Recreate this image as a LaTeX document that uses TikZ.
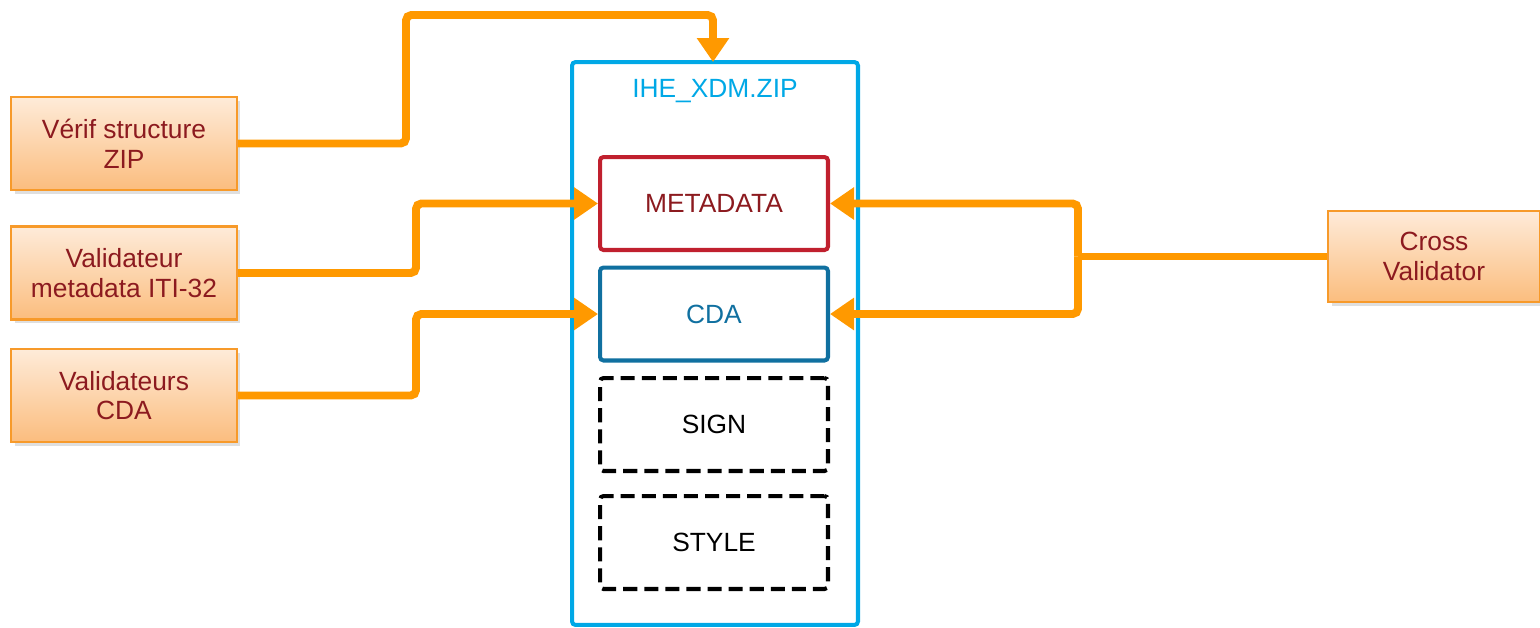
\documentclass[tikz,border=0pt]{standalone}
\usepackage{fontspec}
\setmainfont{Liberation Sans}
\usetikzlibrary{arrows.meta,shadows,calc}
\definecolor{orline}{HTML}{FF9900}
\definecolor{orborder}{HTML}{F79A2A}
\definecolor{ortop}{HTML}{FEEBD9}
\definecolor{orbot}{HTML}{FBBD7E}
\definecolor{dred}{HTML}{8C1A1F}
\definecolor{zipblue}{HTML}{00A8E6}
\definecolor{metared}{HTML}{C0202E}
\definecolor{cdablue}{HTML}{1070A0}
\tikzset{
  tool/.style={draw=orborder, line width=1.2pt, top color=ortop, bottom color=orbot,
    text=dred, align=center, font=\fontsize{15}{17}\selectfont,
    minimum width=4.52cm, minimum height=1.86cm, inner sep=0pt,
    drop shadow={shadow xshift=2pt, shadow yshift=-2pt, opacity=0.25}},
  part/.style={line width=2.3pt, rounded corners=2pt, align=center,
    font=\fontsize{15}{17}\selectfont, minimum width=4.56cm, minimum height=1.86cm, inner sep=0pt},
  flow/.style={draw=orline, line width=4.5pt, rounded corners=3pt,
    -{Triangle[length=0.48cm,width=0.62cm]}},
  plain/.style={draw=orline, line width=4.5pt, rounded corners=3pt},
}
\begin{document}
\begin{tikzpicture}[x=0.02cm,y=-0.02cm]
\useasboundingbox (0,0) rectangle (1540,627);
% outer zip box
\node[draw=zipblue, line width=2.3pt, rounded corners=2pt, minimum width=5.72cm, minimum height=11.26cm, inner sep=0pt] (zip) at (715,343.5) {};
\node[text=zipblue, font=\fontsize{15}{17}\selectfont] (ziplabel) at (715,91) {IHE\_XDM.ZIP};
\node[part, draw=metared, text=dred] (meta) at (714,203.5) {METADATA};
\node[part, draw=cdablue, text=cdablue] (cda) at (714,314) {CDA};
\node[part, draw=black, dash pattern=on 8pt off 4pt, text=black] (sign) at (714,424.5) {SIGN};
\node[part, draw=black, dash pattern=on 8pt off 4pt, text=black] (style) at (714,542.5) {STYLE};
% tools
\node[tool] (verif) at (124,143.5) {Vérif structure\\ZIP};
\node[tool] (valmeta) at (124,273) {Validateur\\metadata ITI-32};
\node[tool] (valcda) at (124,395.5) {Validateurs\\CDA};
\node[tool, minimum width=4.24cm, minimum height=1.82cm] (cross) at (1434,256.5) {Cross\\Validator};
% connectors
\coordinate (j1) at (1078,256.5);
\coordinate (ztop) at (713,62);
\draw[flow] (verif.east) -- ++(168,0) |- (713,15) -- (ztop);
\draw[flow] (valmeta.east) -| (416,203.5) -- (meta.west);
\draw[flow] (valcda.east) -| (416,314) -- (cda.west);
\draw[plain] (cross.west) -- (j1);
\draw[flow] (j1) |- (meta.east);
\draw[flow] (j1) |- (cda.east);
\end{tikzpicture}
\end{document}
